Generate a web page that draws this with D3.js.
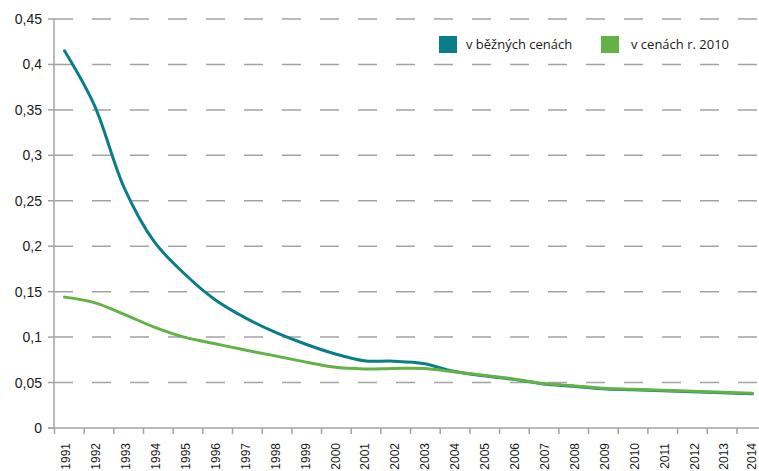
<!DOCTYPE html>
<html>
<head>
<meta charset="utf-8">
<script src="https://cdn.jsdelivr.net/npm/d3@7"></script>
<style>
  html, body { margin: 0; padding: 0; background: #fff; }
  svg { display: block; }
</style>
</head>
<body>
<svg id="chart" width="759" height="471"></svg>
<script>
const years = ["1991","1992","1993","1994","1995","1996","1997","1998","1999","2000","2001","2002","2003","2004","2005","2006","2007","2008","2009","2010","2011","2012","2013","2014"];
const tickLabels = ["1991","1992","1993","1994","1995","1996","1997","1998","1999","2000","2001","2002","2003","2004","2005","2006","2007","2008","2009","2010","2011","2012","2013","2014"];
const currentPrices = [0.415,0.355,0.264,0.205,0.170,0.142,0.122,0.106,0.093,0.082,0.074,0.0735,0.071,0.0625,0.0575,0.0535,0.0485,0.046,0.0432,0.0421,0.041,0.0399,0.0388,0.0377];
const constPrices2010 = [0.144,0.138,0.125,0.111,0.100,0.093,0.086,0.0796,0.073,0.067,0.065,0.0655,0.0655,0.062,0.058,0.054,0.049,0.0466,0.0437,0.0426,0.0415,0.0404,0.0393,0.0382];
const yTicks = [0,0.05,0.1,0.15,0.2,0.25,0.3,0.35,0.4,0.45];
const seriesNames = ["v běžných cenách","v cenách r. 2010"];
const seriesColors = ["#0a7d89","#62b246"];

const svg = d3.select("#chart");
const axisColor = "#a3a3a3";

const y = d3.scaleLinear().domain([0, 0.45]).range([428, 19]);
const x = d3.scalePoint().domain(years).range([64.5, 752.5]);
const xTick = d3.scaleBand().domain(years).range([54.5, 766.6]);

// gridlines
svg.append("g").selectAll("line")
  .data(yTicks.filter(d => d > 0))
  .join("line")
  .attr("x1", 54).attr("x2", 759)
  .attr("y1", d => y(d)).attr("y2", d => y(d))
  .attr("stroke", axisColor).attr("stroke-width", 1.5)
  .attr("stroke-dasharray", "19,19");

// y ticks
svg.append("g").selectAll("line")
  .data(yTicks)
  .join("line")
  .attr("x1", 48).attr("x2", 54)
  .attr("y1", d => y(d)).attr("y2", d => y(d))
  .attr("stroke", axisColor).attr("stroke-width", 1.5);

// y labels
const fmt = d => d === 0 ? "0" : String(+d.toFixed(2)).replace(".", ",");
svg.append("g").selectAll("text")
  .data(yTicks)
  .join("text")
  .attr("x", 42).attr("y", d => y(d))
  .attr("dy", "0.36em")
  .attr("text-anchor", "end")
  .attr("font-family", "Liberation Sans, Arial, sans-serif")
  .attr("font-size", 14)
  .attr("fill", "#1a1a1a")
  .text(fmt);

// axes lines
svg.append("line").attr("x1", 54).attr("x2", 54).attr("y1", 19).attr("y2", 428)
  .attr("stroke", axisColor).attr("stroke-width", 1.5);
svg.append("line").attr("x1", 48).attr("x2", 759).attr("y1", 428).attr("y2", 428)
  .attr("stroke", axisColor).attr("stroke-width", 1.5);

// x ticks
svg.append("g").selectAll("line")
  .data(years)
  .join("line")
  .attr("x1", d => xTick(d)).attr("x2", d => xTick(d))
  .attr("y1", 428).attr("y2", 434)
  .attr("stroke", axisColor).attr("stroke-width", 1.5);

// x labels
svg.append("g").selectAll("text")
  .data(years)
  .join("text")
  .attr("transform", (d, i) => `translate(${x(d) + (i === years.length - 1 ? -0.5 : 1.5)},443) rotate(-90)`)
  .attr("dy", "0.36em")
  .attr("text-anchor", "end")
  .attr("font-family", "Liberation Sans, Arial, sans-serif")
  .attr("font-size", 12)
  .attr("fill", "#1a1a1a")
  .text((d, i) => tickLabels[i]);

// lines
const line = d3.line()
  .x((d, i) => x(years[i]))
  .y(d => y(d))
  .curve(d3.curveCatmullRom.alpha(0.5));

[currentPrices, constPrices2010].forEach((s, k) => {
  svg.append("path")
    .datum(s)
    .attr("d", line)
    .attr("fill", "none")
    .attr("stroke", seriesColors[k])
    .attr("stroke-width", 3)
    .attr("stroke-linecap", "round")
    .attr("stroke-linejoin", "round");
});

// legend
const legendX = [439, 601];
seriesNames.forEach((name, k) => {
  const g = svg.append("g").attr("transform", `translate(${legendX[k]},36)`);
  g.append("rect").attr("width", 18).attr("height", 17).attr("fill", seriesColors[k]);
  g.append("text")
    .attr("x", k === 0 ? 27 : 30).attr("y", 13)
    .attr("font-family", "Open Sans, sans-serif")
    .attr("font-size", 13)
    .attr("fill", "#1a1a1a")
    .text(name);
});
</script>
</body>
</html>
